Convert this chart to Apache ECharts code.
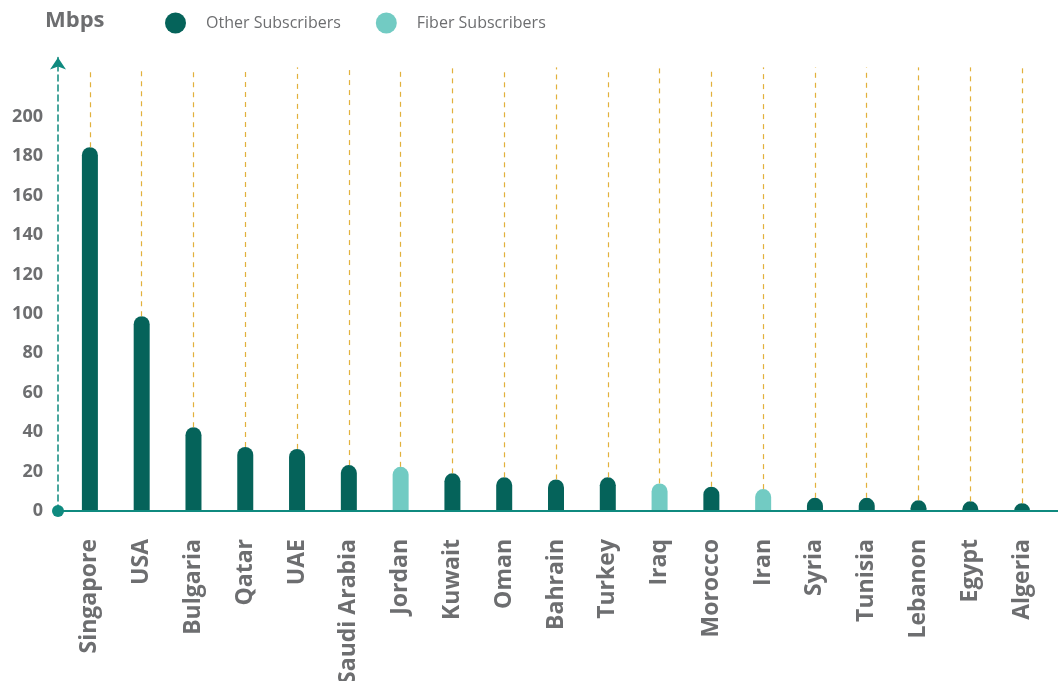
<!DOCTYPE html>
<html>
<head>
<meta charset="utf-8">
<script src="https://cdn.jsdelivr.net/npm/echarts@6/dist/echarts.min.js"></script>
<style>
html,body{margin:0;padding:0;background:#fff;}
#chart{width:1058px;height:681px;}
</style>
</head>
<body>
<div id="chart"></div>
<script>
const categories = ['Singapore','USA','Bulgaria','Qatar','UAE','Saudi Arabia','Jordan','Kuwait','Oman','Bahrain','Turkey','Iraq','Morocco','Iran','Syria','Tunisia','Lebanon','Egypt','Algeria'];
const otherValues = [184.5, 98.8, 42.5, 32.5, 31.5, 23.3, null, 19.1, 17.1, 16.0, 17.1, null, 12.3, null, 6.7, 6.7, 5.4, 4.9, 3.9];
const fiberValues = [null, null, null, null, null, null, 22.4, null, null, null, null, 14.0, null, 11.1, null, null, null, null, null];
const yTickLabels = [0, 20, 40, 60, 80, 100, 120, 140, 160, 180, 200];
const yMax = 230;
const guideTop = 225;
const seriesNames = ['Other Subscribers', 'Fiber Subscribers'];
const unitLabel = 'Mbps';

const FONT = '"Open Sans"';
const GRAY = '#6d6e70';
const DARK = '#05635a';
const LIGHT = '#72cbc3';
const TEAL = '#0f8a7f';
const YELLOW = '#e2b13c';

const combined = categories.map((c, i) => otherValues[i] != null ? otherValues[i] : fiberValues[i]);

const chart = echarts.init(document.getElementById('chart'), null, {renderer: 'canvas'});
chart.setOption({
  animation: false,
  backgroundColor: '#fff',
  textStyle: {fontFamily: FONT},
  title: {
    text: unitLabel, left: 40, top: 5,
    textStyle: {fontFamily: FONT, fontSize: 22, fontWeight: 'bold', color: GRAY}
  },
  legend: {
    data: seriesNames,
    left: 160, top: 7.5,
    icon: 'circle', itemWidth: 21, itemHeight: 21, itemGap: 35,
    textStyle: {fontFamily: FONT, fontSize: 16, color: GRAY, padding: [0, 0, 0, 15]}
  },
  grid: [
    {left: 64, right: 10, top: 57.5, bottom: 170, containLabel: false, outerBoundsMode: 'none'},
    {left: 58, right: 0, top: 57.5, bottom: 170, containLabel: false, outerBoundsMode: 'none'}
  ],
  xAxis: [
    {
      type: 'category', data: categories, gridIndex: 0,
      axisLine: {show: false}, axisTick: {show: false}, splitLine: {show: false},
      axisLabel: {rotate: 90, margin: 28, fontFamily: FONT, fontSize: 23, fontWeight: 'bold', color: GRAY, interval: 0}
    },
    {
      type: 'value', gridIndex: 1, min: 0, max: 1, z: 3,
      axisLine: {show: true, lineStyle: {color: TEAL, width: 2}},
      axisTick: {show: false}, axisLabel: {show: false}, splitLine: {show: false}
    }
  ],
  yAxis: [
    {
      type: 'value', gridIndex: 0, min: 0, max: yMax, interval: 20, offset: 6, z: 4,
      axisLine: {show: true, symbol: ['circle', 'arrow'], symbolSize: [12, 12],
        lineStyle: {color: TEAL, width: 1.5, type: [6, 4]}},
      axisTick: {show: false}, splitLine: {show: false},
      axisLabel: {margin: 15, fontFamily: FONT, fontSize: 18, fontWeight: 'bold', color: GRAY,
        formatter: v => yTickLabels.indexOf(v) >= 0 ? String(v) : ''}
    },
    {type: 'value', gridIndex: 1, min: 0, max: yMax, show: false}
  ],
  series: [
    {
      name: seriesNames[0], type: 'bar', data: otherValues, barWidth: 16, barGap: '-100%',
      itemStyle: {color: DARK, borderRadius: [8, 8, 0, 0]},
      markLine: {
        silent: true, symbol: 'none', animation: false,
        label: {show: false},
        lineStyle: {color: YELLOW, width: 1.2, type: [5, 5]},
        data: combined.map((v, i) => [{coord: [i, v]}, {coord: [i, guideTop]}])
      }
    },
    {
      name: seriesNames[1], type: 'bar', data: fiberValues, barWidth: 16, barGap: '-100%',
      itemStyle: {color: LIGHT, borderRadius: [8, 8, 0, 0]}
    }
  ]
});
</script>
</body>
</html>
